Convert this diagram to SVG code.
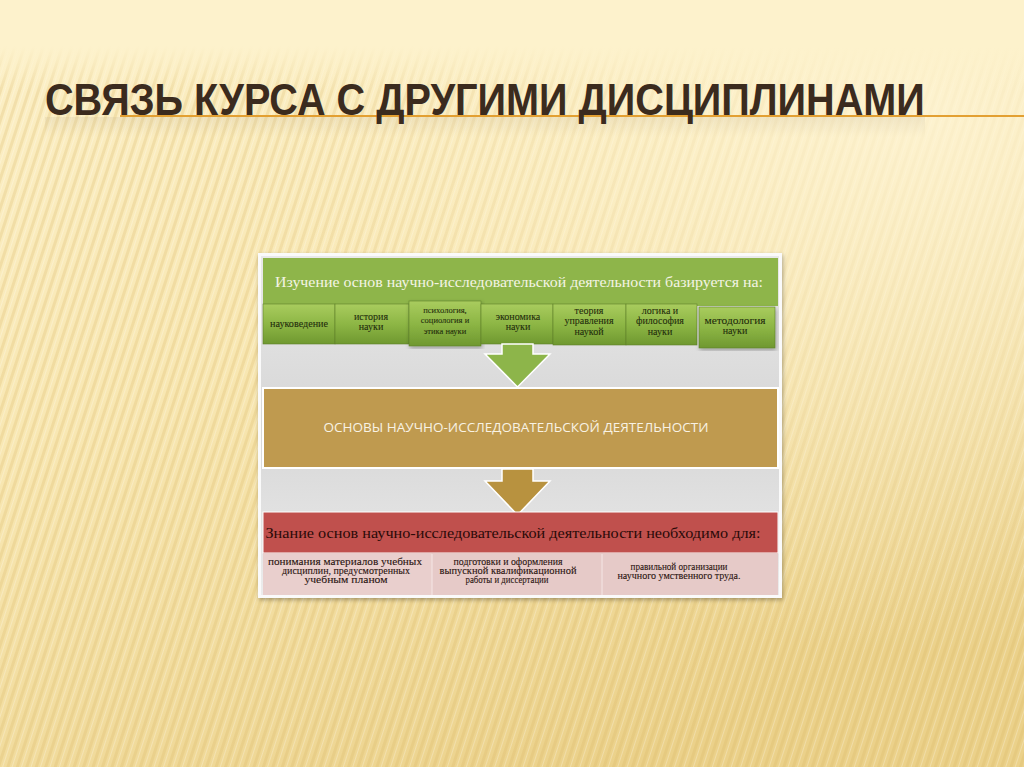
<svg xmlns="http://www.w3.org/2000/svg" width="1024" height="767" viewBox="0 0 1024 767">
<defs>
<linearGradient id="bg" x1="0" y1="0" x2="0.6" y2="1">
<stop offset="0" stop-color="#fcf0c8"/>
<stop offset="0.45" stop-color="#f8e7b2"/>
<stop offset="1" stop-color="#ebd18a"/>
</linearGradient>
<radialGradient id="glow" cx="0.9" cy="0.15" r="0.7">
<stop offset="0" stop-color="#fff6d8" stop-opacity="0.8"/>
<stop offset="1" stop-color="#fff6d8" stop-opacity="0"/>
</radialGradient>
<pattern id="stripes" width="9" height="9" patternUnits="userSpaceOnUse" patternTransform="rotate(18)">
<rect x="0" y="0" width="3" height="9" fill="#d6b463" opacity="0.26"/>
<rect x="5" y="0" width="1" height="9" fill="#ffffff" opacity="0.25"/>
</pattern>
<linearGradient id="fadeTop" x1="0" y1="0" x2="0" y2="1">
<stop offset="0" stop-color="#fdf2cc" stop-opacity="1"/>
<stop offset="0.06" stop-color="#fdf2cc" stop-opacity="1"/>
<stop offset="0.12" stop-color="#fdf2cc" stop-opacity="0"/>
<stop offset="1" stop-color="#fdf2cc" stop-opacity="0"/>
</linearGradient>
<linearGradient id="panelBg" x1="0" y1="0" x2="0" y2="1">
<stop offset="0" stop-color="#e9e9e9"/>
<stop offset="0.5" stop-color="#d6d6d6"/>
<stop offset="1" stop-color="#ececec"/>
</linearGradient>
<linearGradient id="gbox" x1="0" y1="0" x2="0" y2="1">
<stop offset="0" stop-color="#a9cc5e"/>
<stop offset="0.5" stop-color="#8db645"/>
<stop offset="1" stop-color="#6f9830"/>
</linearGradient>
<linearGradient id="reflG" x1="0" y1="0" x2="0" y2="1">
<stop offset="0" stop-color="#b8aa90" stop-opacity="0.18"/>
<stop offset="1" stop-color="#b8aa90" stop-opacity="0"/>
</linearGradient>
<filter id="sh" x="-5%" y="-5%" width="110%" height="110%">
<feDropShadow dx="1" dy="2" stdDeviation="2" flood-color="#000" flood-opacity="0.3"/>
</filter>
<style>
.title{font-family:"Liberation Sans",Arial,sans-serif;font-weight:bold;font-size:45px;fill:#3b2b1e}
.tnr{font-family:"Liberation Serif","Times New Roman",serif}
.hdr{font-size:15px;fill:#f4f4e4}
.sm{font-size:10px;fill:#1f2b0c;text-anchor:middle;stroke:#1f2b0c;stroke-width:0.08}
.pk{font-size:10px;fill:#2a1410;text-anchor:middle;stroke:#2a1410;stroke-width:0.1}
.box{stroke:#5f7f2a;stroke-width:0.6}
</style>
</defs>

<rect width="1024" height="767" fill="url(#bg)"/>
<rect width="1024" height="767" fill="url(#stripes)"/>
<rect width="1024" height="767" fill="url(#glow)"/>
<rect width="1024" height="767" fill="url(#fadeTop)"/>

<g id="title">
<rect x="45" y="117" width="880" height="20" fill="url(#reflG)"/>
<line x1="120" y1="116" x2="1024" y2="116" stroke="#e3a032" stroke-width="2.2"/>
<text class="title" transform="translate(45,115) scale(0.82,1)" x="0" y="0" textLength="1073" lengthAdjust="spacingAndGlyphs">СВЯЗЬ КУРСА С ДРУГИМИ ДИСЦИПЛИНАМИ</text>
</g>

<g id="panel">
<rect x="258" y="253" width="524" height="345" fill="#fafafa" filter="url(#sh)"/>
<rect x="261" y="256" width="518" height="339" fill="url(#panelBg)"/>
</g>

<g id="header">
<rect x="263" y="258" width="515" height="48" fill="#8eb54a"/>
<text class="tnr hdr" x="519" y="287" text-anchor="middle" textLength="488" lengthAdjust="spacingAndGlyphs">Изучение основ научно-исследовательской деятельности базируется на:</text>
</g>

<g id="boxes">
<g id="b1"><rect class="box" x="263" y="304" width="72" height="40" fill="url(#gbox)"/>
<text class="tnr sm" x="299" y="327" textLength="58" lengthAdjust="spacingAndGlyphs">науковедение</text></g>
<g id="b2"><rect class="box" x="335" y="304" width="74" height="40" fill="url(#gbox)"/>
<text class="tnr sm" x="371" y="320">история</text><text class="tnr sm" x="371" y="330">науки</text></g>
<g id="b3"><rect class="box" x="409" y="301" width="72" height="45" fill="url(#gbox)" filter="url(#sh)"/>
<text class="tnr sm" x="445" y="313" style="font-size:8.5px">психология,</text><text class="tnr sm" x="445" y="323" style="font-size:8.5px">социология и</text><text class="tnr sm" x="445" y="334" style="font-size:8.5px">этика науки</text></g>
<g id="b4"><rect class="box" x="481" y="304" width="72" height="40" fill="url(#gbox)"/>
<text class="tnr sm" x="518" y="320">экономика</text><text class="tnr sm" x="518" y="330">науки</text></g>
<g id="b5"><rect class="box" x="553" y="304" width="73" height="41" fill="url(#gbox)"/>
<text class="tnr sm" x="589" y="314">теория</text><text class="tnr sm" x="589" y="324">управления</text><text class="tnr sm" x="589" y="335">наукой</text></g>
<g id="b6"><rect class="box" x="626" y="304" width="71" height="41" fill="url(#gbox)"/>
<text class="tnr sm" x="660" y="314">логика и</text><text class="tnr sm" x="660" y="324">философия</text><text class="tnr sm" x="660" y="335">науки</text></g>
<g id="b7"><rect class="box" x="699" y="307" width="76" height="41" fill="url(#gbox)" filter="url(#sh)"/>
<text class="tnr sm" x="735" y="324" textLength="61" lengthAdjust="spacingAndGlyphs">методология</text><text class="tnr sm" x="735" y="334">науки</text></g>
</g>

<g id="connectors">
<path d="M502,344 L533,344 L533,354 L550,354 L517.5,387 L485,354 L502,354 Z" fill="#8db54a" stroke="#ffffff" stroke-width="1.5"/>
<path d="M502,469 L533,469 L533,481 L550,481 L517.5,515 L485,481 L502,481 Z" fill="#b8923f" stroke="#ffffff" stroke-width="1.5"/>
</g>

<g id="core">
<rect x="263" y="388" width="515" height="80" fill="#bf9a4f" stroke="#ffffff" stroke-width="2"/>
<text x="516" y="432" text-anchor="middle" font-family="'Open Sans','Liberation Sans',sans-serif" font-size="12.5" fill="#f8f2e4" textLength="385" lengthAdjust="spacingAndGlyphs">ОСНОВЫ НАУЧНО-ИССЛЕДОВАТЕЛЬСКОЙ ДЕЯТЕЛЬНОСТИ</text>
</g>

<g id="result">
<rect x="263" y="512" width="515" height="41" fill="#c0504d" stroke="#ffffff" stroke-width="1"/>
<text class="tnr" x="513" y="538" text-anchor="middle" font-size="15.5" fill="#2a0a08" textLength="495" lengthAdjust="spacingAndGlyphs">Знание основ  научно-исследовательской деятельности необходимо для:</text>
</g>

<g id="cells">
<g id="c1"><rect x="263" y="553" width="169" height="42" fill="#e9cfcd"/>
<text class="tnr pk" x="345" y="565" textLength="154" lengthAdjust="spacingAndGlyphs">понимания материалов учебных</text>
<text class="tnr pk" x="346" y="574" textLength="128" lengthAdjust="spacingAndGlyphs">дисциплин, предусмотренных</text>
<text class="tnr pk" x="346" y="583" textLength="83" lengthAdjust="spacingAndGlyphs">учебным планом</text></g>
<g id="c2"><rect x="432" y="553" width="170" height="42" fill="#e6cac8"/>
<text class="tnr pk" x="508" y="565" textLength="109" lengthAdjust="spacingAndGlyphs">подготовки и оформления</text>
<text class="tnr pk" x="508" y="574" textLength="137" lengthAdjust="spacingAndGlyphs">выпускной квалификационной</text>
<text class="tnr pk" x="507" y="583" textLength="83" lengthAdjust="spacingAndGlyphs">работы и диссертации</text></g>
<g id="c3"><rect x="602" y="553" width="176" height="42" fill="#e6cac8"/>
<text class="tnr pk" x="679" y="570" textLength="97" lengthAdjust="spacingAndGlyphs">правильной организации</text>
<text class="tnr pk" x="679" y="579" textLength="123" lengthAdjust="spacingAndGlyphs">научного умственного труда.</text></g>
<line x1="432" y1="554" x2="432" y2="595" stroke="#f5e6e5" stroke-width="1"/>
<line x1="602" y1="554" x2="602" y2="595" stroke="#f5e6e5" stroke-width="1"/>
</g>
</svg>
